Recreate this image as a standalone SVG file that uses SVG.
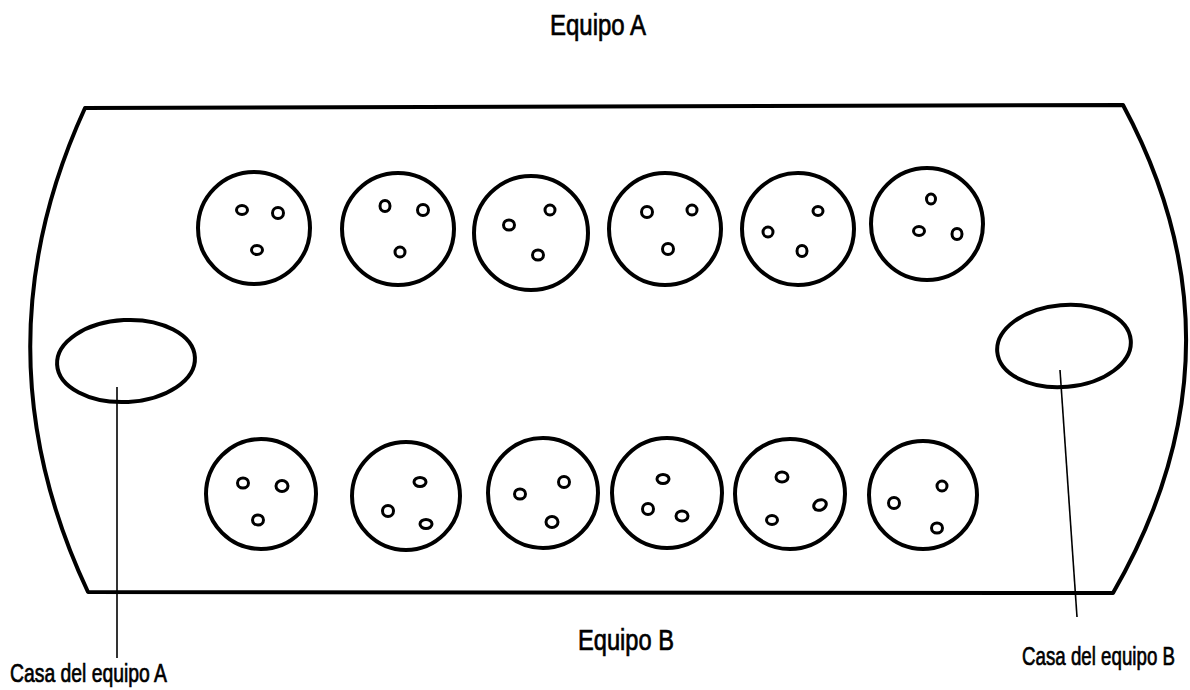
<svg xmlns="http://www.w3.org/2000/svg" width="1190" height="690" viewBox="0 0 1190 690">
<style>
.b{fill:none;stroke:#000;stroke-width:4;stroke-linejoin:round}
.p{fill:#fff;stroke:#000;stroke-width:4}
.s{fill:#fff;stroke:#000;stroke-width:3}
.l{stroke:#000;stroke-width:1.6;fill:none}
.t{font-family:"Liberation Sans","DejaVu Sans",sans-serif;fill:#000;stroke:#000;stroke-width:0.7}
</style>
<rect width="1190" height="690" fill="#fff"/>
<g id="board"><path class="b" d="M85 108 L1123 105 Q1254 349 1113 593 L88 592 Q-26 350 85 108 Z"/></g>
<g id="houseA"><ellipse class="b" cx="126" cy="361" rx="69" ry="41" transform="rotate(-3 126 361)"/></g>
<g id="houseB"><ellipse class="b" cx="1064" cy="346" rx="67" ry="41" transform="rotate(-5 1064 346)"/></g>
<g id="pitsA">
<g id="a1"><circle class="p" cx="254" cy="228" r="56"/><ellipse class="s" cx="242" cy="210" rx="5.5" ry="4.5"/><ellipse class="s" cx="278" cy="213" rx="5.5" ry="5.5"/><ellipse class="s" cx="257" cy="250" rx="5.5" ry="4.5"/></g>
<g id="a2"><circle class="p" cx="398" cy="229" r="56"/><ellipse class="s" cx="385" cy="206" rx="5" ry="5.5"/><ellipse class="s" cx="423" cy="210" rx="5.5" ry="5.5"/><ellipse class="s" cx="400" cy="252" rx="5" ry="5"/></g>
<g id="a3"><circle class="p" cx="531" cy="233" r="57"/><ellipse class="s" cx="509" cy="225" rx="5.5" ry="5"/><ellipse class="s" cx="550" cy="210" rx="5" ry="5"/><ellipse class="s" cx="538" cy="255" rx="5.5" ry="5"/></g>
<g id="a4"><circle class="p" cx="665" cy="229" r="56"/><ellipse class="s" cx="647" cy="212" rx="5.5" ry="5.5"/><ellipse class="s" cx="692" cy="210" rx="5" ry="5"/><ellipse class="s" cx="668" cy="249" rx="5.5" ry="5.5"/></g>
<g id="a5"><circle class="p" cx="798" cy="229" r="56"/><ellipse class="s" cx="768" cy="232" rx="5" ry="5"/><ellipse class="s" cx="818" cy="211" rx="5" ry="4.5"/><ellipse class="s" cx="802" cy="251" rx="5" ry="5.5"/></g>
<g id="a6"><circle class="p" cx="927" cy="224" r="56"/><ellipse class="s" cx="931" cy="199" rx="4.5" ry="5"/><ellipse class="s" cx="919" cy="231" rx="5.5" ry="4.5"/><ellipse class="s" cx="957" cy="234" rx="5" ry="5.5"/></g>
</g>
<g id="pitsB">
<g id="b1"><circle class="p" cx="261" cy="494" r="55"/><ellipse class="s" cx="243" cy="483" rx="5.5" ry="5"/><ellipse class="s" cx="282" cy="486" rx="6" ry="5.5"/><ellipse class="s" cx="258" cy="520" rx="5.5" ry="5"/></g>
<g id="b2"><circle class="p" cx="406" cy="496" r="54"/><ellipse class="s" cx="420" cy="482" rx="6" ry="4.5"/><ellipse class="s" cx="388" cy="511" rx="5.5" ry="5.5"/><ellipse class="s" cx="426" cy="524" rx="6" ry="4.5"/></g>
<g id="b3"><circle class="p" cx="543" cy="493" r="55"/><ellipse class="s" cx="520" cy="494" rx="5.5" ry="5"/><ellipse class="s" cx="564" cy="482" rx="5.5" ry="5.5"/><ellipse class="s" cx="552" cy="522" rx="6" ry="5.5"/></g>
<g id="b4"><circle class="p" cx="667" cy="493" r="55"/><ellipse class="s" cx="663" cy="479" rx="6" ry="4.5"/><ellipse class="s" cx="648" cy="509" rx="5.5" ry="5.5"/><ellipse class="s" cx="682" cy="516" rx="6" ry="5"/></g>
<g id="b5"><circle class="p" cx="790" cy="494" r="55"/><ellipse class="s" cx="782" cy="477" rx="6" ry="5"/><ellipse class="s" cx="820" cy="505" rx="6.5" ry="5" transform="rotate(-25 820 505)"/><ellipse class="s" cx="772" cy="520" rx="5.5" ry="4.5"/></g>
<g id="b6"><circle class="p" cx="923" cy="495" r="54"/><ellipse class="s" cx="894" cy="503" rx="5.5" ry="5.5"/><ellipse class="s" cx="942" cy="486" rx="5" ry="5"/><ellipse class="s" cx="937" cy="528" rx="5.5" ry="5"/></g>
</g>
<g id="connectors">
<line class="l" x1="117" y1="387" x2="117" y2="658"/>
<line class="l" x1="1060" y1="370" x2="1077" y2="617"/>
</g>
<g id="labels">
<text class="t" x="550" y="35" font-size="29" textLength="96" lengthAdjust="spacingAndGlyphs">Equipo A</text>
<text class="t" x="578" y="650" font-size="29" textLength="96" lengthAdjust="spacingAndGlyphs">Equipo B</text>
<text class="t" x="10" y="682" font-size="26" textLength="157" lengthAdjust="spacingAndGlyphs">Casa del equipo A</text>
<text class="t" x="1022" y="665" font-size="26" textLength="153" lengthAdjust="spacingAndGlyphs">Casa del equipo B</text>
</g>
</svg>
